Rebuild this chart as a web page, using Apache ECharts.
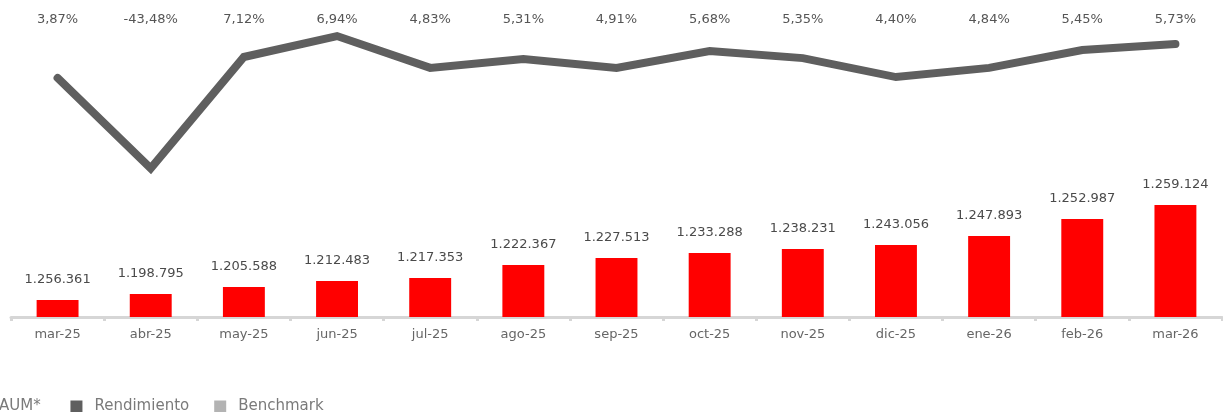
<!DOCTYPE html>
<html>
<head>
<meta charset="utf-8">
<script src="https://cdn.jsdelivr.net/npm/echarts@6/dist/echarts.min.js"></script>
<style>
  html, body { margin: 0; padding: 0; background: #fff; }
  #chart { width: 1223px; height: 412px; }
</style>
</head>
<body>
<div id="chart"></div>
<script>
// meses
var months = ['mar-25', 'abr-25', 'may-25', 'jun-25', 'jul-25', 'ago-25', 'sep-25',
  'oct-25', 'nov-25', 'dic-25', 'ene-26', 'feb-26', 'mar-26'];
// AUM: altura relativa de las barras y etiqueta mostrada
var aumBars = [17, 23, 30, 36, 39, 52, 59, 64, 68, 72, 81, 98, 112];
var aumLabels = ['1.256.361', '1.198.795', '1.205.588', '1.212.483', '1.217.353', '1.222.367',
  '1.227.513', '1.233.288', '1.238.231', '1.243.056', '1.247.893', '1.252.987', '1.259.124'];
// Rendimiento: posicion relativa de la linea (0-100) y etiqueta mostrada arriba
var rendLine = [83.3, 51.8, 90.6, 97.9, 86.8, 89.9, 86.8, 92.7, 90.2, 83.6, 86.8, 93.0, 95.1];
var rendLabels = ['3,87%', '-43,48%', '7,12%', '6,94%', '4,83%', '5,31%', '4,91%',
  '5,68%', '5,35%', '4,40%', '4,84%', '5,45%', '5,73%'];
var benchmark = [];

var font = 'DejaVu Sans';
var square = 'path://M0,0H10V10H0Z';
var chart = echarts.init(document.getElementById('chart'));
chart.setOption({
  animation: false,
  textStyle: { fontFamily: font },
  grid: { left: 11, right: 1, top: 30, bottom: 95, containLabel: false },
  legend: {
    left: -25,
    top: 394,
    itemWidth: 12,
    itemHeight: 12,
    itemGap: 25,
    itemStyle: { borderWidth: 0 },
    formatter: function (name) {
      return name === 'AUM*' ? '{f|' + name + '}{s| }' : '{t|' + name + '}';
    },
    textStyle: {
      color: '#7a7a7a', fontSize: 15, fontFamily: font,
      rich: {
        t: { color: '#7a7a7a', fontSize: 15, fontFamily: font, padding: [0, 0, 0, 7] },
        f: { color: '#7a7a7a', fontSize: 15, fontFamily: font, padding: [0, 0, 0, 2] },
        s: { fontSize: 15, fontFamily: font, width: 5 }
      }
    },
    data: [
      { name: 'AUM*', icon: square, itemStyle: { color: '#ff0000' } },
      { name: 'Rendimiento', icon: square, itemStyle: { color: '#5f5f5f' } },
      { name: 'Benchmark', icon: square, itemStyle: { color: '#b3b3b3' } }
    ]
  },
  xAxis: [{
    type: 'category',
    data: months,
    position: 'bottom',
    axisLine: { lineStyle: { color: '#d6d6d6', width: 3 } },
    axisTick: { show: true, length: 4, lineStyle: { color: '#d6d6d6', width: 3 } },
    axisLabel: { color: '#666', fontSize: 13, margin: 11, fontFamily: font }
  }, {
    type: 'category',
    data: rendLabels,
    position: 'top',
    axisLine: { show: false },
    axisTick: { show: false },
    axisLabel: { color: '#555', fontSize: 13, margin: 4, fontFamily: font }
  }],
  yAxis: [{
    type: 'value', min: 0, max: 287, show: false
  }, {
    type: 'value', min: 0, max: 100, show: false
  }],
  series: [{
    name: 'AUM*',
    type: 'bar',
    data: aumBars,
    barWidth: '45%',
    itemStyle: { color: '#ff0000' },
    label: {
      show: true,
      position: 'top',
      distance: 14,
      color: '#4a4a4a',
      fontSize: 13,
      fontFamily: font,
      formatter: function (p) { return aumLabels[p.dataIndex]; }
    }
  }, {
    name: 'Rendimiento',
    type: 'line',
    yAxisIndex: 1,
    data: rendLine,
    symbol: 'none',
    clip: false,
    itemStyle: { color: '#5f5f5f' },
    lineStyle: { color: '#5f5f5f', width: 8, cap: 'round', join: 'miter' }
  }, {
    name: 'Benchmark',
    type: 'line',
    yAxisIndex: 1,
    data: benchmark,
    symbol: 'none',
    itemStyle: { color: '#b3b3b3' },
    lineStyle: { color: '#b3b3b3' }
  }]
});
</script>
</body>
</html>
